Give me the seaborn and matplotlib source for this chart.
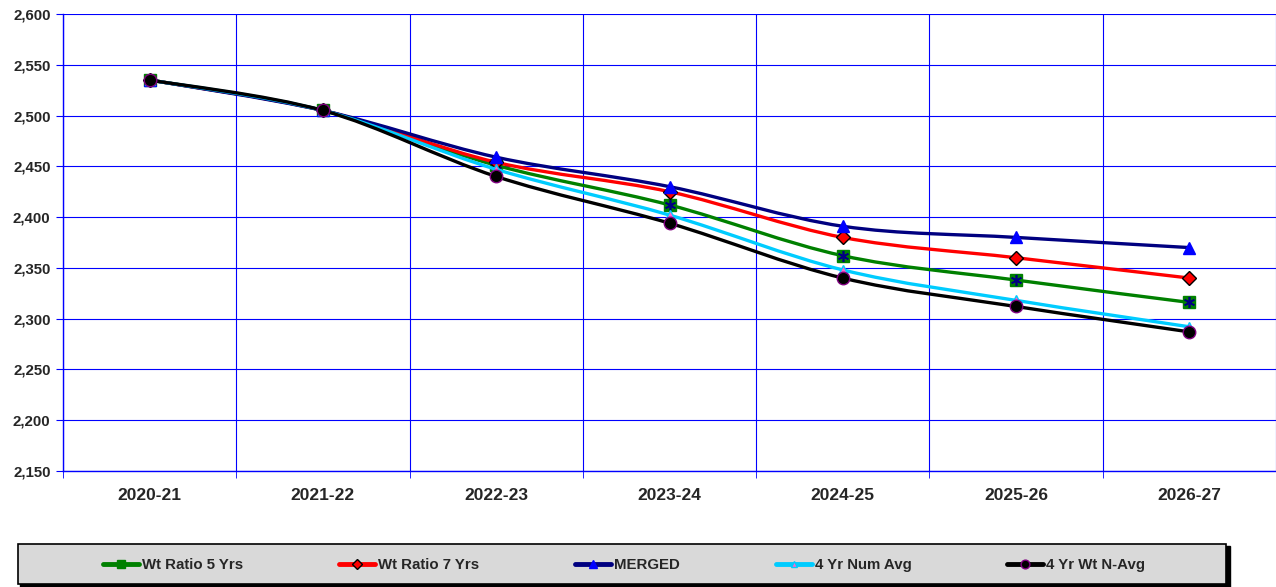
import numpy as np
import matplotlib
matplotlib.use("Agg")
import matplotlib.pyplot as plt
import seaborn as sns
from matplotlib.path import Path
from matplotlib.patches import PathPatch, Rectangle
from matplotlib.lines import Line2D
from matplotlib.ticker import FuncFormatter, FixedLocator

# data
years = ['2020-21', '2021-22', '2022-23', '2023-24', '2024-25', '2025-26', '2026-27']
wt_ratio_5 = [2535, 2505, 2451, 2412, 2362, 2338, 2316]
wt_ratio_7 = [2535, 2505, 2454, 2425, 2380, 2360, 2340]
merged = [2535, 2505, 2459, 2430, 2391, 2380, 2370]
num_avg_4 = [2535, 2505, 2447, 2402, 2348, 2318, 2292]
wt_navg_4 = [2535, 2505, 2440, 2394, 2340, 2312, 2287]

series = [
    ('Wt Ratio 5 Yrs', wt_ratio_5),
    ('Wt Ratio 7 Yrs', wt_ratio_7),
    ('MERGED', merged),
    ('4 Yr Num Avg', num_avg_4),
    ('4 Yr Wt N-Avg', wt_navg_4),
]

# line colour, marker, marker face, marker edge, marker size
styles = {
    'Wt Ratio 5 Yrs': ('#008000', 's', '#008000', '#008000', 9),
    'Wt Ratio 7 Yrs': ('#ff0000', 'D', '#ff0000', '#000000', 7),
    'MERGED': ('#000080', '^', '#0000ff', '#0000ff', 9),
    '4 Yr Num Avg': ('#00ccff', '^', '#ff66cc', '#00ccff', 7),
    '4 Yr Wt N-Avg': ('#000000', 'o', '#000000', '#800080', 9),
}

sns.set_style('white')
plt.rcParams['font.family'] = ['Liberation Sans', 'DejaVu Sans']
plt.rcParams['font.weight'] = 'bold'

fig = plt.figure(figsize=(12.76, 5.87), dpi=100)
ax = fig.add_axes([63 / 1276, 1 - 471 / 587, 1 - 63 / 1276, (471 - 14) / 587])

x = np.arange(len(years))


def smooth_path(xs, ys):
    # excel-style smoothed line: bezier segments through the points
    pts = np.column_stack([xs, ys]).astype(float)
    ext = np.vstack([pts[0], pts, pts[-1]])
    verts = [pts[0]]
    codes = [Path.MOVETO]
    for i in range(len(pts) - 1):
        p0, p1, p2, p3 = ext[i], ext[i + 1], ext[i + 2], ext[i + 3]
        c1 = p1 + (p2 - p0) / 6
        c2 = p2 - (p3 - p1) / 6
        verts += [c1, c2, p2]
        codes += [Path.CURVE4] * 3
    return Path(verts, codes)


handles = []
z = 3
for name, vals in series:
    color, mk, face, edge, ms = styles[name]
    ax.add_patch(PathPatch(smooth_path(x, vals), fill=False, edgecolor=color,
                           linewidth=2.4, zorder=z, capstyle='round', joinstyle='round'))
    sns.lineplot(x=x, y=vals, ax=ax, linestyle='', marker=mk, markersize=ms,
                 markerfacecolor=face, markeredgecolor=edge, markeredgewidth=1,
                 zorder=z + 0.1, legend=False)
    if name == 'Wt Ratio 5 Yrs':
        sns.lineplot(x=x, y=vals, ax=ax, linestyle='', marker=(6, 2, 0), markersize=8,
                     markeredgecolor='#000080', markeredgewidth=1.2, zorder=z + 0.2,
                     legend=False)
    z += 0.5
    handles.append(Line2D([], [], color=color, linewidth=3.5, marker=mk, markersize=ms * 0.7,
                          markerfacecolor=face, markeredgecolor=edge))

ax.set_xlim(-0.5, len(years) - 0.5)
ax.set_ylim(2150, 2600)
ax.yaxis.set_major_locator(FixedLocator(np.arange(2150, 2601, 50)))
ax.yaxis.set_major_formatter(FuncFormatter(lambda v, p: f'{v:,.0f}'))
ax.set_xticks(x)
ax.set_xticklabels(years)
ax.set_xticks(np.arange(-0.5, len(years), 1), minor=True)
ax.set_xlabel('')
ax.set_ylabel('')

ax.grid(True, which='major', axis='y', color='#0000ff', linewidth=0.8)
ax.grid(True, which='minor', axis='x', color='#0000ff', linewidth=0.8)
ax.grid(False, which='major', axis='x')
for side in ['top', 'right']:
    ax.spines[side].set_visible(False)
for side in ['left', 'bottom']:
    ax.spines[side].set_color('#0000ff')
    ax.spines[side].set_linewidth(1.0)

ax.tick_params(axis='y', which='major', left=True, length=5, color='#0000ff',
               labelsize=10.8, pad=4)
ax.tick_params(axis='x', which='major', bottom=False, labelsize=12.5, pad=9)
ax.tick_params(axis='x', which='minor', bottom=True, length=5, color='#0000ff')
for lab in ax.get_xticklabels() + ax.get_yticklabels():
    lab.set_fontweight('bold')

# legend box under the plot
fig.patches.append(Rectangle((20 / 1276, 1 - 587 / 587), 1210 / 1276, 41 / 587,
                             transform=fig.transFigure, facecolor='black',
                             edgecolor='black', zorder=0))
fig.patches.append(Rectangle((18 / 1276, 1 - 584 / 587), 1208 / 1276, 40 / 587,
                             transform=fig.transFigure, facecolor='#d9d9d9',
                             edgecolor='black', linewidth=1.2, zorder=1))
fig.legend(handles, [n for n, _ in series], loc='center',
           bbox_to_anchor=(624 / 1276, 1 - 565 / 587), ncol=5, frameon=False,
           handlelength=2.4, handletextpad=0.2, columnspacing=6.4,
           prop={'weight': 'bold', 'size': 10.8})

fig.savefig('out.png', dpi=100)
